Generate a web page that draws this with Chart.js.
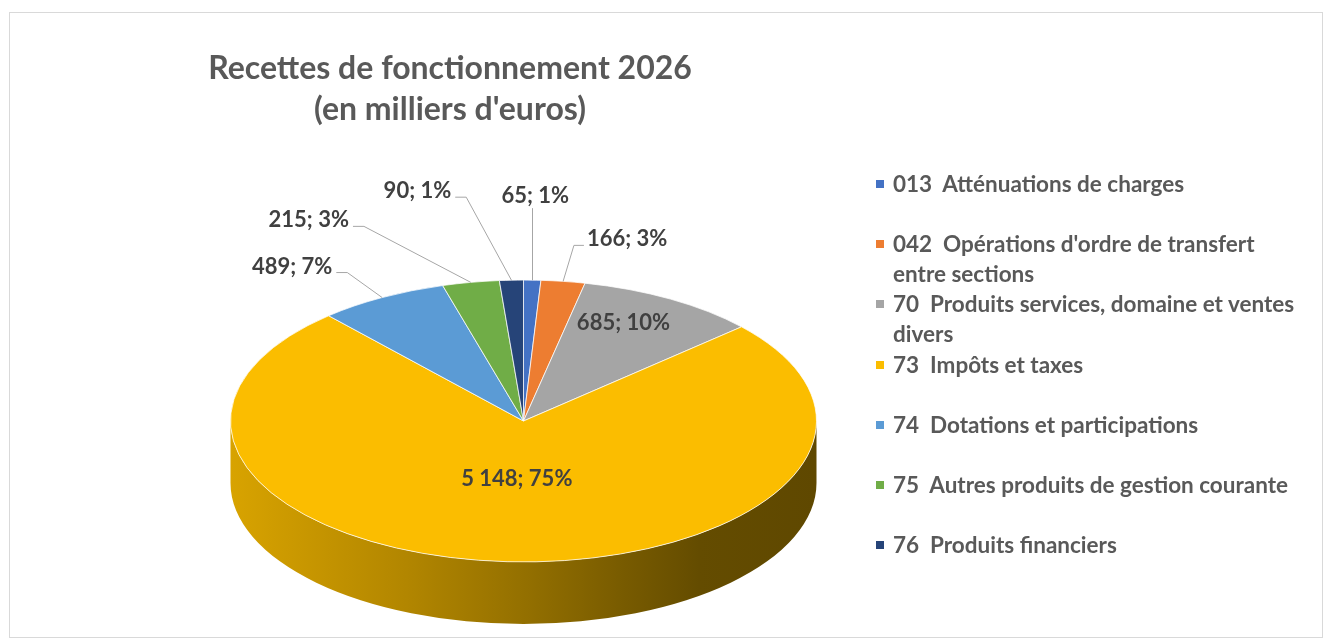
<!DOCTYPE html>
<html lang="fr">
<head>
<meta charset="utf-8">
<title>Recettes de fonctionnement 2026</title>
<script src="https://cdn.jsdelivr.net/npm/chart.js@4.4.1/dist/chart.umd.min.js"></script>
<style>
    html, body { margin: 0; padding: 0; background: #fff; }
    #wrap { position: relative; width: 1323px; height: 639px; overflow: hidden; font-family: Lato, "Open Sans", sans-serif; }
    #frame { position: absolute; left: 9px; top: 12px; width: 1314px; height: 626px; border: 1px solid #d9d9d9; box-sizing: border-box; }
    #pie { position: absolute; left: 0; top: 0; }
    #title { position: absolute; left: 0; top: 46px; width: 900px; text-align: center; font-weight: 700; font-size: 32px; line-height: 41px; color: #595959; }
    #legend { position: absolute; left: 873px; top: 169px; width: 436px; color: #595959; font-weight: 700; font-size: 22.5px; }
    #legend .item { position: relative; height: 60.2px; padding-left: 20px; line-height: 29.5px; white-space: pre-wrap; }
    #legend .box { position: absolute; left: 3px; top: 11px; width: 8px; height: 8px; }
</style>
</head>
<body>
<div id="wrap">
    <div id="frame"></div>
    <canvas id="pie" width="1323" height="639"></canvas>
    <div id="title">Recettes de fonctionnement 2026<br>(en milliers d'euros)</div>
    <div id="legend"></div>
</div>
<script>
// data
var categories = [
    "013  Atténuations de charges",
    "042  Opérations d'ordre de transfert entre sections",
    "70  Produits services, domaine et ventes divers",
    "73  Impôts et taxes",
    "74  Dotations et participations",
    "75  Autres produits de gestion courante",
    "76  Produits financiers"
];
var amounts = [65, 166, 685, 5148, 489, 215, 90];
var sharesPct = [1, 3, 10, 75, 7, 3, 1];

var sliceColors = ["#4472c4", "#ed7d31", "#a5a5a5", "#fbbd00", "#5b9bd5", "#70ad47", "#264478"];

// where each data label sits: offset from the slice's outer edge, or a fraction of the radius inside
var labelPlacement = [
    { dx: 3, dy: -84 },
    { dx: 64, dy: -42 },
    { inside: 0.68, dy: -15 },
    { inside: 0.41, dy: 0 },
    { dx: -90, dy: -31 },
    { dx: -162, dy: -62 },
    { dx: -94, dy: -89 }
];

var pieLook = {
    centerY: 421,     // screen y of the ellipse centre
    squash: 0.481,    // vertical / horizontal radius
    depth: 62,        // thickness of the disc
    sideShade: [[0, 0.86], [0.3, 0.71], [0.5, 0.59], [0.67, 0.48], [0.8, 0.40], [1, 0.38]]
};

function shade(hex, f) {
    var n = parseInt(hex.slice(1), 16);
    var r = Math.round(((n >> 16) & 255) * f);
    var g = Math.round(((n >> 8) & 255) * f);
    var b = Math.round((n & 255) * f);
    return "rgb(" + r + "," + g + "," + b + ")";
}

function formatAmount(v) {
    return String(v).replace(/\B(?=(\d{3})+(?!\d))/g, " ");
}

var flatPie = {
    id: "flatPie",
    beforeDatasetsDraw: function (chart) {
        var ctx = chart.ctx;
        var meta = chart.getDatasetMeta(0);
        var first = meta.data[0];
        var cx = first.x, cy = first.y, r = first.outerRadius;
        var k = pieLook.squash;
        ctx.save();
        ctx.translate(0, pieLook.centerY);
        ctx.scale(1, k);
        ctx.translate(0, -cy);
        meta.data.forEach(function (arc, i) {
            var a0 = Math.max(arc.startAngle, 0);
            var a1 = Math.min(arc.endAngle, Math.PI);
            if (a1 <= a0) return;
            var grad = ctx.createLinearGradient(cx - r, 0, cx + r, 0);
            pieLook.sideShade.forEach(function (s) {
                grad.addColorStop(s[0], shade(sliceColors[i], s[1]));
            });
            ctx.beginPath();
            ctx.arc(cx, cy, r, a0, a1);
            ctx.arc(cx, cy + pieLook.depth / k, r, a1, a0, true);
            ctx.closePath();
            ctx.fillStyle = grad;
            ctx.fill();
        });
        // the transform stays on while Chart.js draws the slices
    },
    afterDatasetsDraw: function (chart) {
        var ctx = chart.ctx;
        ctx.restore();
        var meta = chart.getDatasetMeta(0);
        var k = pieLook.squash;
        ctx.save();
        ctx.font = "700 22px Lato, 'Open Sans', sans-serif";
        ctx.textAlign = "center";
        ctx.textBaseline = "middle";
        meta.data.forEach(function (arc, i) {
            var mid = (arc.startAngle + arc.endAngle) / 2;
            var cyScreen = pieLook.centerY;
            var place = labelPlacement[i];
            var text = formatAmount(amounts[i]) + "; " + sharesPct[i] + "%";
            var lx, ly;
            if (place.inside) {
                lx = arc.x + Math.cos(mid) * arc.outerRadius * place.inside;
                ly = cyScreen + Math.sin(mid) * arc.outerRadius * place.inside * k + (place.dy || 0);
            } else {
                var ax = arc.x + Math.cos(mid) * arc.outerRadius;
                var ay = cyScreen + Math.sin(mid) * arc.outerRadius * k;
                lx = ax + place.dx;
                ly = ay + place.dy;
                var w = ctx.measureText(text).width;
                ctx.strokeStyle = "#a6a6a6";
                ctx.lineWidth = 1;
                ctx.beginPath();
                if (place.dx > 20) {
                    ctx.moveTo(lx - w / 2 - 3, ly + 6);
                    ctx.lineTo(lx - w / 2 - 13, ly + 6);
                } else if (place.dx < -20) {
                    ctx.moveTo(lx + w / 2 + 4, ly + 6);
                    ctx.lineTo(lx + w / 2 + 15, ly + 6);
                } else {
                    ctx.moveTo(Math.round(ax) + 0.5, ly + 12);
                }
                ctx.lineTo(place.dx > 20 || place.dx < -20 ? ax : Math.round(ax) + 0.5, ay);
                ctx.stroke();
            }
            ctx.fillStyle = "#404040";
            ctx.fillText(text, lx, ly);
        });
        ctx.restore();
    }
};

var chart = new Chart(document.getElementById("pie").getContext("2d"), {
    type: "pie",
    data: {
        labels: categories,
        datasets: [{
            data: amounts,
            backgroundColor: sliceColors,
            borderColor: "#ffffff",
            borderWidth: 1,
            clip: false
        }]
    },
    options: {
        responsive: false,
        animation: false,
        events: [],
        layout: {
            padding: { left: 230, right: 506, top: 20, bottom: 32 }
        },
        plugins: {
            legend: { display: false },
            tooltip: { enabled: false },
            title: { display: false }
        }
    },
    plugins: [flatPie]
});

// legend built from the chart's own labels and colours
var legendBox = document.getElementById("legend");
chart.data.labels.forEach(function (label, i) {
    var item = document.createElement("div");
    item.className = "item";
    var box = document.createElement("span");
    box.className = "box";
    box.style.background = chart.data.datasets[0].backgroundColor[i];
    item.appendChild(box);
    item.appendChild(document.createTextNode(label));
    legendBox.appendChild(item);
});
</script>
</body>
</html>
